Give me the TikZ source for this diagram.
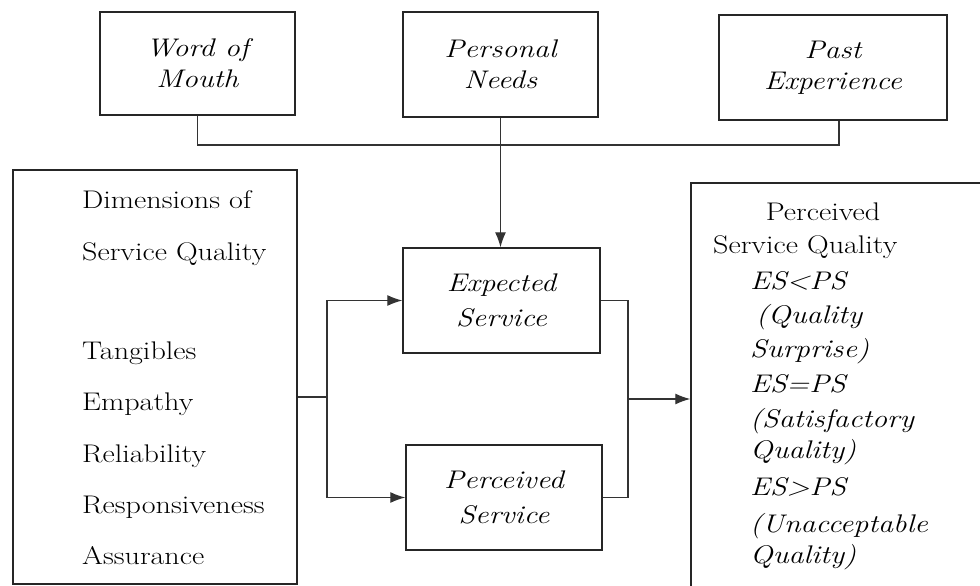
\documentclass[tikz,border=0pt]{standalone}
\usepackage{fontspec}
\setmainfont{Latin Modern Roman}[FakeStretch=1.18]
\usetikzlibrary{arrows.meta}
\begin{document}
\begin{tikzpicture}[x=1pt,y=-1pt,
  box/.style={draw=black!85,line width=1.4pt,inner sep=0pt,align=center,
    font=\fontsize{25.5}{31}\selectfont\itshape},
  bigbox/.style={draw=black!85,line width=1.4pt,inner sep=0pt},
  conn/.style={draw=black!80,line width=1.3pt},
  arr/.style={conn,-{Latex[length=15pt,width=11pt]}},
  txt/.style={inner sep=0pt,font=\fontsize{25.5}{30}\selectfont},
  itxt/.style={inner sep=0pt,font=\fontsize{25.5}{30}\selectfont\itshape}]
\useasboundingbox (0,0) rectangle (980,586);
\fill[white] (0,0) rectangle (980,586);
% top boxes
\node[box,minimum width=195pt,minimum height=103pt] (wom) at (197.5,63.5) {Word of\\Mouth};
\node[box,minimum width=195pt,minimum height=105pt] (pn) at (500.5,64.5) {Personal\\Needs};
\node[box,minimum width=228pt,minimum height=105pt] (pe) at (833,67.5) {Past\\Experience};
% middle boxes
\node[box,minimum width=197pt,minimum height=105pt,font=\fontsize{25.5}{35}\selectfont\itshape] (es) at (501.5,300.5) {Expected\\Service};
\node[box,minimum width=196pt,minimum height=105pt,font=\fontsize{25.5}{35}\selectfont\itshape] (ps) at (504,497.5) {Perceived\\Service};
% big boxes
\node[bigbox,minimum width=284pt,minimum height=414pt] (dims) at (155,377) {};
\node[bigbox,minimum width=309pt,minimum height=437pt] (psq) at (845.5,401.5) {};
% text in dimensions box
\node[txt,anchor=base west] (d1) at (82,208) {Dimensions of};
\node[txt,anchor=base west] (d2) at (82,260) {Service Quality};
\node[txt,anchor=base west] (d3) at (82,359) {Tangibles};
\node[txt,anchor=base west] (d4) at (82,410) {Empathy};
\node[txt,anchor=base west] (d5) at (82,462) {Reliability};
\node[txt,anchor=base west] (d6) at (82,513) {Responsiveness};
\node[txt,anchor=base west] (d7) at (82,564) {Assurance};
% text in perceived service quality box
\node[txt,anchor=base] (q1) at (823,220) {Perceived};
\node[txt,anchor=base west] (q2) at (713,253) {Service Quality};
\node[itxt,anchor=base west] (q3) at (750,289) {ES<PS};
\node[itxt,anchor=base west] (q4) at (756,323) {(Quality};
\node[itxt,anchor=base west] (q5) at (750,357) {Surprise)};
\node[itxt,anchor=base west] (q6) at (750,392) {ES=PS};
\node[itxt,anchor=base west] (q7) at (750,427) {(Satisfactory};
\node[itxt,anchor=base west] (q8) at (750,458) {Quality)};
\node[itxt,anchor=base west] (q9) at (750,495) {ES>PS};
\node[itxt,anchor=base west] (q10) at (750,532) {(Unacceptable};
\node[itxt,anchor=base west] (q11) at (750,563) {Quality)};
% connectors
\coordinate (top) at (0,145);
\draw[conn] (wom.south) -- (wom.south |- top) -| ([xshift=6pt]pe.south);
\draw[arr] (pn.south) -- (pn.south |- es.north);
\coordinate (j1) at (327,397);
\draw[conn] (dims.east |- j1) -- (j1);
\draw[arr] (j1) |- (es.west);
\draw[arr] (j1) |- (ps.west);
\coordinate (j2) at (628,399);
\draw[conn] (es.east) -| (j2);
\draw[conn] (ps.east) -| (j2);
\draw[arr] (j2) -- (j2 -| psq.west);
\end{tikzpicture}
\end{document}
